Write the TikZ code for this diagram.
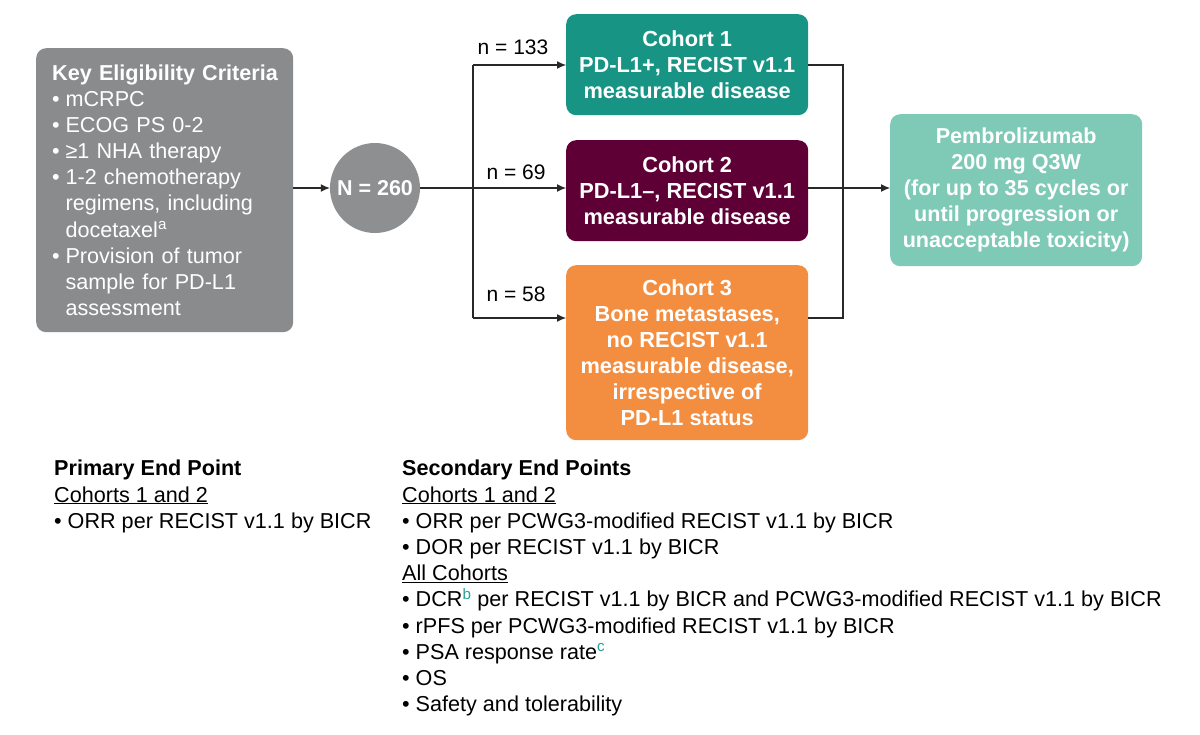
\documentclass[tikz,border=0pt]{standalone}
\usepackage{fontspec}
\setmainfont{Liberation Sans}
\usetikzlibrary{arrows.meta}
\definecolor{boxgray}{RGB}{138,139,141}
\definecolor{circgray}{RGB}{142,143,145}
\definecolor{cohortone}{RGB}{24,148,133}
\definecolor{cohorttwo}{RGB}{94,0,53}
\definecolor{cohortthree}{RGB}{243,141,64}
\definecolor{pembro}{RGB}{126,202,183}
\definecolor{linecol}{RGB}{40,40,40}
\definecolor{suptext}{RGB}{40,160,150}
\newcommand{\bul}{\makebox[0.62em][l]{•}}
\newcommand{\ind}{\hspace*{0.62em}}
\begin{document}
\begin{tikzpicture}[x=1pt,y=-1pt,
  box/.style={rounded corners=10pt, text=white, inner sep=0pt, align=center,
    font=\bfseries\fontsize{21.8}{26}\selectfont},
  conn/.style={draw=linecol, line width=1.1pt},
  arr/.style={conn, -{Latex[length=9pt,width=8pt]}},
  nlab/.style={font=\fontsize{21}{26}\selectfont, text=black, inner sep=0pt},
  endtext/.style={anchor=north west, align=left, inner sep=0pt, text=black,
    font=\fontsize{21.6}{26.2}\selectfont}
]
\useasboundingbox (0,0) rectangle (1200,734);

% Eligibility box
\node[box, fill=boxgray, minimum width=257pt, minimum height=284pt, anchor=north west,
  align=left, text width=225pt, font=\fontsize{21.6}{26.1}\selectfont] (elig) at (36,48)
  {\mbox{\textbf{Key Eligibility Criteria}}\\
   \bul mCRPC\\
   \bul ECOG PS 0-2\\
   \bul ≥1 NHA therapy\\
   \bul 1-2 chemotherapy\\
   \ind regimens, including\\
   \ind docetaxel\textsuperscript{a}\\
   \bul Provision of tumor\\
   \ind sample for PD-L1\\
   \ind assessment};

% Circle
\node[circle, fill=circgray, minimum size=90pt, inner sep=0pt, text=white,
  font=\bfseries\fontsize{21.5}{26}\selectfont] (N) at (375,188) {N = 260};

% Cohorts
\node[box, fill=cohortone, minimum width=242pt, minimum height=101pt, anchor=north west] (c1) at (566,14)
  {Cohort 1\\PD-L1+, RECIST v1.1\\measurable disease};
\node[box, fill=cohorttwo, minimum width=242pt, minimum height=101pt, anchor=north west] (c2) at (566,140)
  {Cohort 2\\PD-L1–, RECIST v1.1\\measurable disease};
\node[box, fill=cohortthree, minimum width=242pt, minimum height=175pt, anchor=north west] (c3) at (566,265)
  {Cohort 3\\Bone metastases,\\no RECIST v1.1\\measurable disease,\\irrespective of\\PD-L1 status};

% Pembrolizumab
\node[box, fill=pembro, minimum width=252pt, minimum height=152pt, anchor=north west,
  font=\bfseries\fontsize{21.6}{26}\selectfont] (pem) at (890,114)
  {Pembrolizumab\\200 mg Q3W\\(for up to 35 cycles or\\until progression or\\unacceptable toxicity)};

% Connectors
\coordinate (br1) at (473,65);
\coordinate (br2) at (473,188);
\coordinate (br3) at (473,318);
\coordinate (m1) at (843,65);
\coordinate (m3) at (843,318);
\coordinate (m2) at (843,188);

\draw[arr] (elig.east |- N.west) -- (N.west);
\draw[arr] (N.east) -- (c2.west |- N.east);
\draw[arr] (br1) -- (c1.west |- br1);
\draw[arr] (br3) -- (c3.west |- br3);
\draw[conn] (br1) -- (br3);

\draw[conn] (c1.east |- m1) -- (m1) -- (m3) -- (c3.east |- m3);
\draw[arr] (c2.east |- m2) -- (pem.west |- m2);

\node[nlab] (n1) at (513,47) {n = 133};
\node[nlab] (n2) at (516,172) {n = 69};
\node[nlab] (n3) at (516,294) {n = 58};

% End points
\node[endtext] (prim) at (54,460)
  {\textbf{Primary End Point}\\
   \underline{Cohorts 1 and 2}\\
   • ORR per RECIST v1.1 by BICR};
\node[endtext] (sec) at (402,460)
  {\textbf{Secondary End Points}\\
   \underline{Cohorts 1 and 2}\\
   • ORR per PCWG3-modified RECIST v1.1 by BICR\\
   • DOR per RECIST v1.1 by BICR\\
   \underline{All Cohorts}\\
   • DCR\textsuperscript{\textcolor{suptext}{b}} per RECIST v1.1 by BICR and PCWG3-modified RECIST v1.1 by BICR\\
   • rPFS per PCWG3-modified RECIST v1.1 by BICR\\
   • PSA response rate\textsuperscript{\textcolor{suptext}{c}}\\
   • OS\\
   • Safety and tolerability};
\end{tikzpicture}
\end{document}
